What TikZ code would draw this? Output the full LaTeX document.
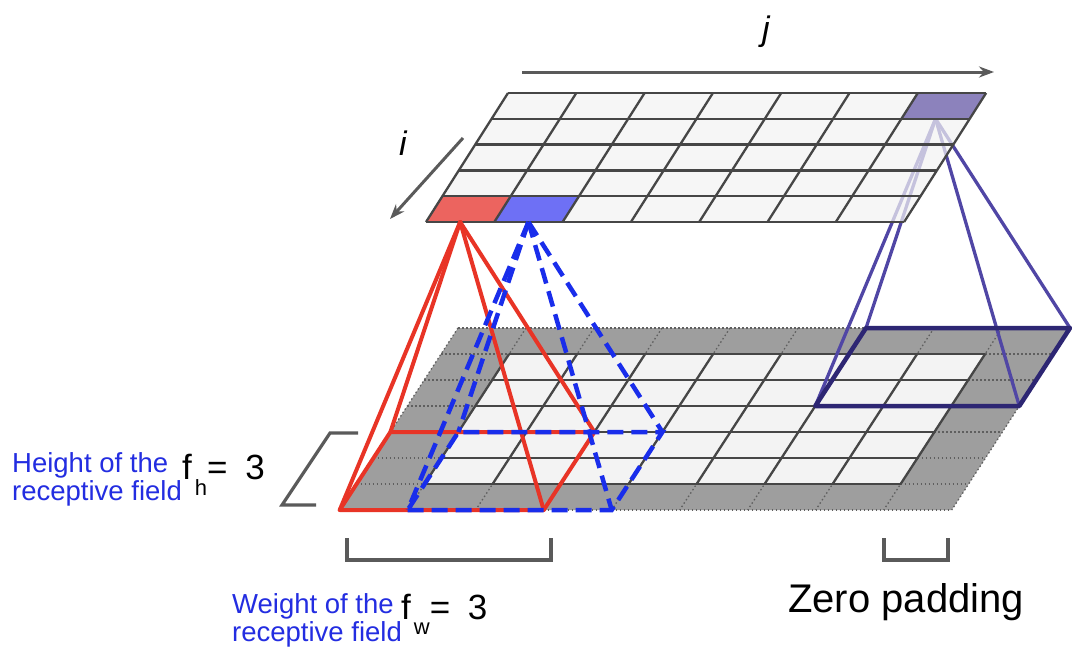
\documentclass[tikz,border=0pt]{standalone}
\usepackage{fontspec}
\setmainfont{Liberation Sans}
\usetikzlibrary{arrows.meta,calc}
\definecolor{gridline}{RGB}{70,70,70}
\definecolor{dotline}{RGB}{95,95,95}
\definecolor{padfill}{RGB}{158,158,158}
\definecolor{cellfill}{RGB}{243,243,243}
\definecolor{redline}{RGB}{232,52,38}
\definecolor{redcell}{RGB}{236,100,95}
\definecolor{blueline}{RGB}{25,45,235}
\definecolor{bluecell}{RGB}{110,112,245}
\definecolor{purpline}{RGB}{80,70,165}
\definecolor{purpbase}{RGB}{45,38,115}
\definecolor{purpcell}{RGB}{140,130,188}
\definecolor{labelblue}{RGB}{35,45,225}
\definecolor{markgray}{RGB}{90,90,90}
\begin{document}
\begin{tikzpicture}[x=1pt,y=-1pt,
  gridl/.style={draw=gridline,line width=2.3pt},
  padl/.style={draw=dotline,line width=1.3pt,dash pattern=on 1.5pt off 2.5pt},
  redl/.style={draw=redline,line width=4pt,line join=round,line cap=round},
  bluel/.style={draw=blueline,line width=4.5pt,dash pattern=on 16pt off 8pt},
  purpl/.style={draw=purpline,line width=3.3pt,line cap=round},
  purpb/.style={draw=purpbase,line width=4.5pt,line join=round},
  bracketl/.style={draw=markgray,line width=3.2pt},
  axisarrow/.style={draw=markgray,line width=3pt,-{Stealth[length=15pt,width=11pt]}},
  bluetxt/.style={text=labelblue,font=\fontsize{27.5}{27.5}\selectfont,align=left,inner sep=0pt,anchor=base west},
  blacktxt/.style={text=black,inner sep=0pt,anchor=base west},
  axistxt/.style={text=black,font=\fontsize{34}{34}\selectfont\itshape,inner sep=0pt,anchor=base}]
\useasboundingbox (0,0) rectangle (1076,651);
\fill[white] (0,0) rectangle (1076,651);

% grid points
\foreach \c in {0,...,7}{\foreach \r in {0,...,5}{
  \coordinate (T-\c-\r) at ({508+\c*68.3-\r*16.4},{93+\r*25.8});}}
\foreach \c in {0,...,9}{\foreach \r in {0,...,7}{
  \coordinate (B-\c-\r) at ({458+\c*68-\r*16.9},{328+\r*26});}}

% bottom (padded) grid
\fill[padfill] (B-0-0) -- (B-9-0) -- (B-9-7) -- (B-0-7) -- cycle;
\fill[cellfill] (B-1-1) -- (B-8-1) -- (B-8-6) -- (B-1-6) -- cycle;
\foreach \r in {0,...,7}{\draw[padl] (B-0-\r) -- (B-9-\r);}
\foreach \c in {0,...,9}{\draw[padl] (B-\c-0) -- (B-\c-7);}
\foreach \r in {1,...,6}{\draw[gridl] (B-1-\r) -- (B-8-\r);}
\foreach \c in {1,...,8}{\draw[gridl] (B-\c-1) -- (B-\c-6);}

% apexes
\coordinate (redapex) at ($(T-0-5)!0.5!(T-1-5)$);
\coordinate (blueapex) at ($(T-1-5)!0.5!(T-2-5)$);
\coordinate (purpapex) at ($(T-6-1)!0.5!(T-7-1)$);

% purple receptive field (behind the top grid)
\draw[purpl] (purpapex) -- (B-6-0);
\draw[purpl] (purpapex) -- (B-6-3);
\draw[purpl] (purpapex) -- (B-9-0);
\draw[purpl] (purpapex) -- (B-9-3);
\draw[purpb] (B-6-0) -- (B-9-0) -- (B-9-3) -- (B-6-3) -- cycle;

% top grid
\fill[cellfill,fill opacity=0.72] (T-0-0) -- (T-7-0) -- (T-7-5) -- (T-0-5) -- cycle;
\fill[redcell] (T-0-4) -- (T-1-4) -- (T-1-5) -- (T-0-5) -- cycle;
\fill[bluecell] (T-1-4) -- (T-2-4) -- (T-2-5) -- (T-1-5) -- cycle;
\fill[purpcell] (T-6-0) -- (T-7-0) -- (T-7-1) -- (T-6-1) -- cycle;
\foreach \r in {0,...,5}{\draw[gridl] (T-0-\r) -- (T-7-\r);}
\foreach \c in {0,...,7}{\draw[gridl] (T-\c-0) -- (T-\c-5);}

% red receptive field
\draw[redl] (redapex) -- (B-0-7);
\draw[redl] (redapex) -- (B-0-4);
\draw[redl] (redapex) -- (B-3-4);
\draw[redl] (redapex) -- (B-3-7);
\draw[redl] (B-0-7) -- (B-3-7) -- (B-3-4) -- (B-0-4) -- cycle;

% blue receptive field (dashed)
\draw[bluel] (blueapex) -- (B-1-7);
\draw[bluel] (blueapex) -- (B-1-4);
\draw[bluel] (blueapex) -- (B-4-4);
\draw[bluel] (blueapex) -- (B-4-7);
\draw[bluel] (B-1-7) -- (B-4-7) -- (B-4-4) -- (B-1-4) -- cycle;

% axes
\coordinate (jstart) at (522,72);
\coordinate (jend) at (994,72);
\coordinate (istart) at (463,138);
\coordinate (iend) at (390,219);
\draw[axisarrow] (jstart) -- (jend);
\draw[axisarrow] (istart) -- (iend);
\node[axistxt] (jlab) at (766,40) {j};
\node[axistxt] (ilab) at (403,155) {i};

% brackets
\coordinate (hb1) at (358,433);
\coordinate (hb2) at (330,433);
\coordinate (hb3) at (282,505);
\coordinate (hb4) at (316,505);
\draw[bracketl] (hb1) -- (hb2) -- (hb3) -- (hb4);
\coordinate (wb1) at (347,538);
\coordinate (wb2) at (347,560);
\coordinate (wb3) at (551,560);
\coordinate (wb4) at (551,538);
\draw[bracketl] (wb1) -- (wb2) -- (wb3) -- (wb4);
\coordinate (zb1) at (884,538);
\coordinate (zb2) at (884,560);
\coordinate (zb3) at (948,560);
\coordinate (zb4) at (948,538);
\draw[bracketl] (zb1) -- (zb2) -- (zb3) -- (zb4);

% labels
\node[bluetxt] (hlab) at (12,500) {Height of the\\receptive field};
\node[blacktxt,font=\fontsize{35}{35}\selectfont] (fh) at (182,479)
  {f\kern3pt\raisebox{-16pt}{\fontsize{22}{22}\selectfont h}= \hspace{8pt}3};
\node[bluetxt] (wlab) at (232,641) {Weight of the\\receptive field};
\node[blacktxt,font=\fontsize{35}{35}\selectfont] (fw) at (401,619)
  {f\kern3pt\raisebox{-15pt}{\fontsize{22}{22}\selectfont w}= \hspace{8pt}3};
\node[blacktxt,font=\fontsize{40}{40}\selectfont] (zlab) at (788,612) {Zero padding};
\end{tikzpicture}
\end{document}
